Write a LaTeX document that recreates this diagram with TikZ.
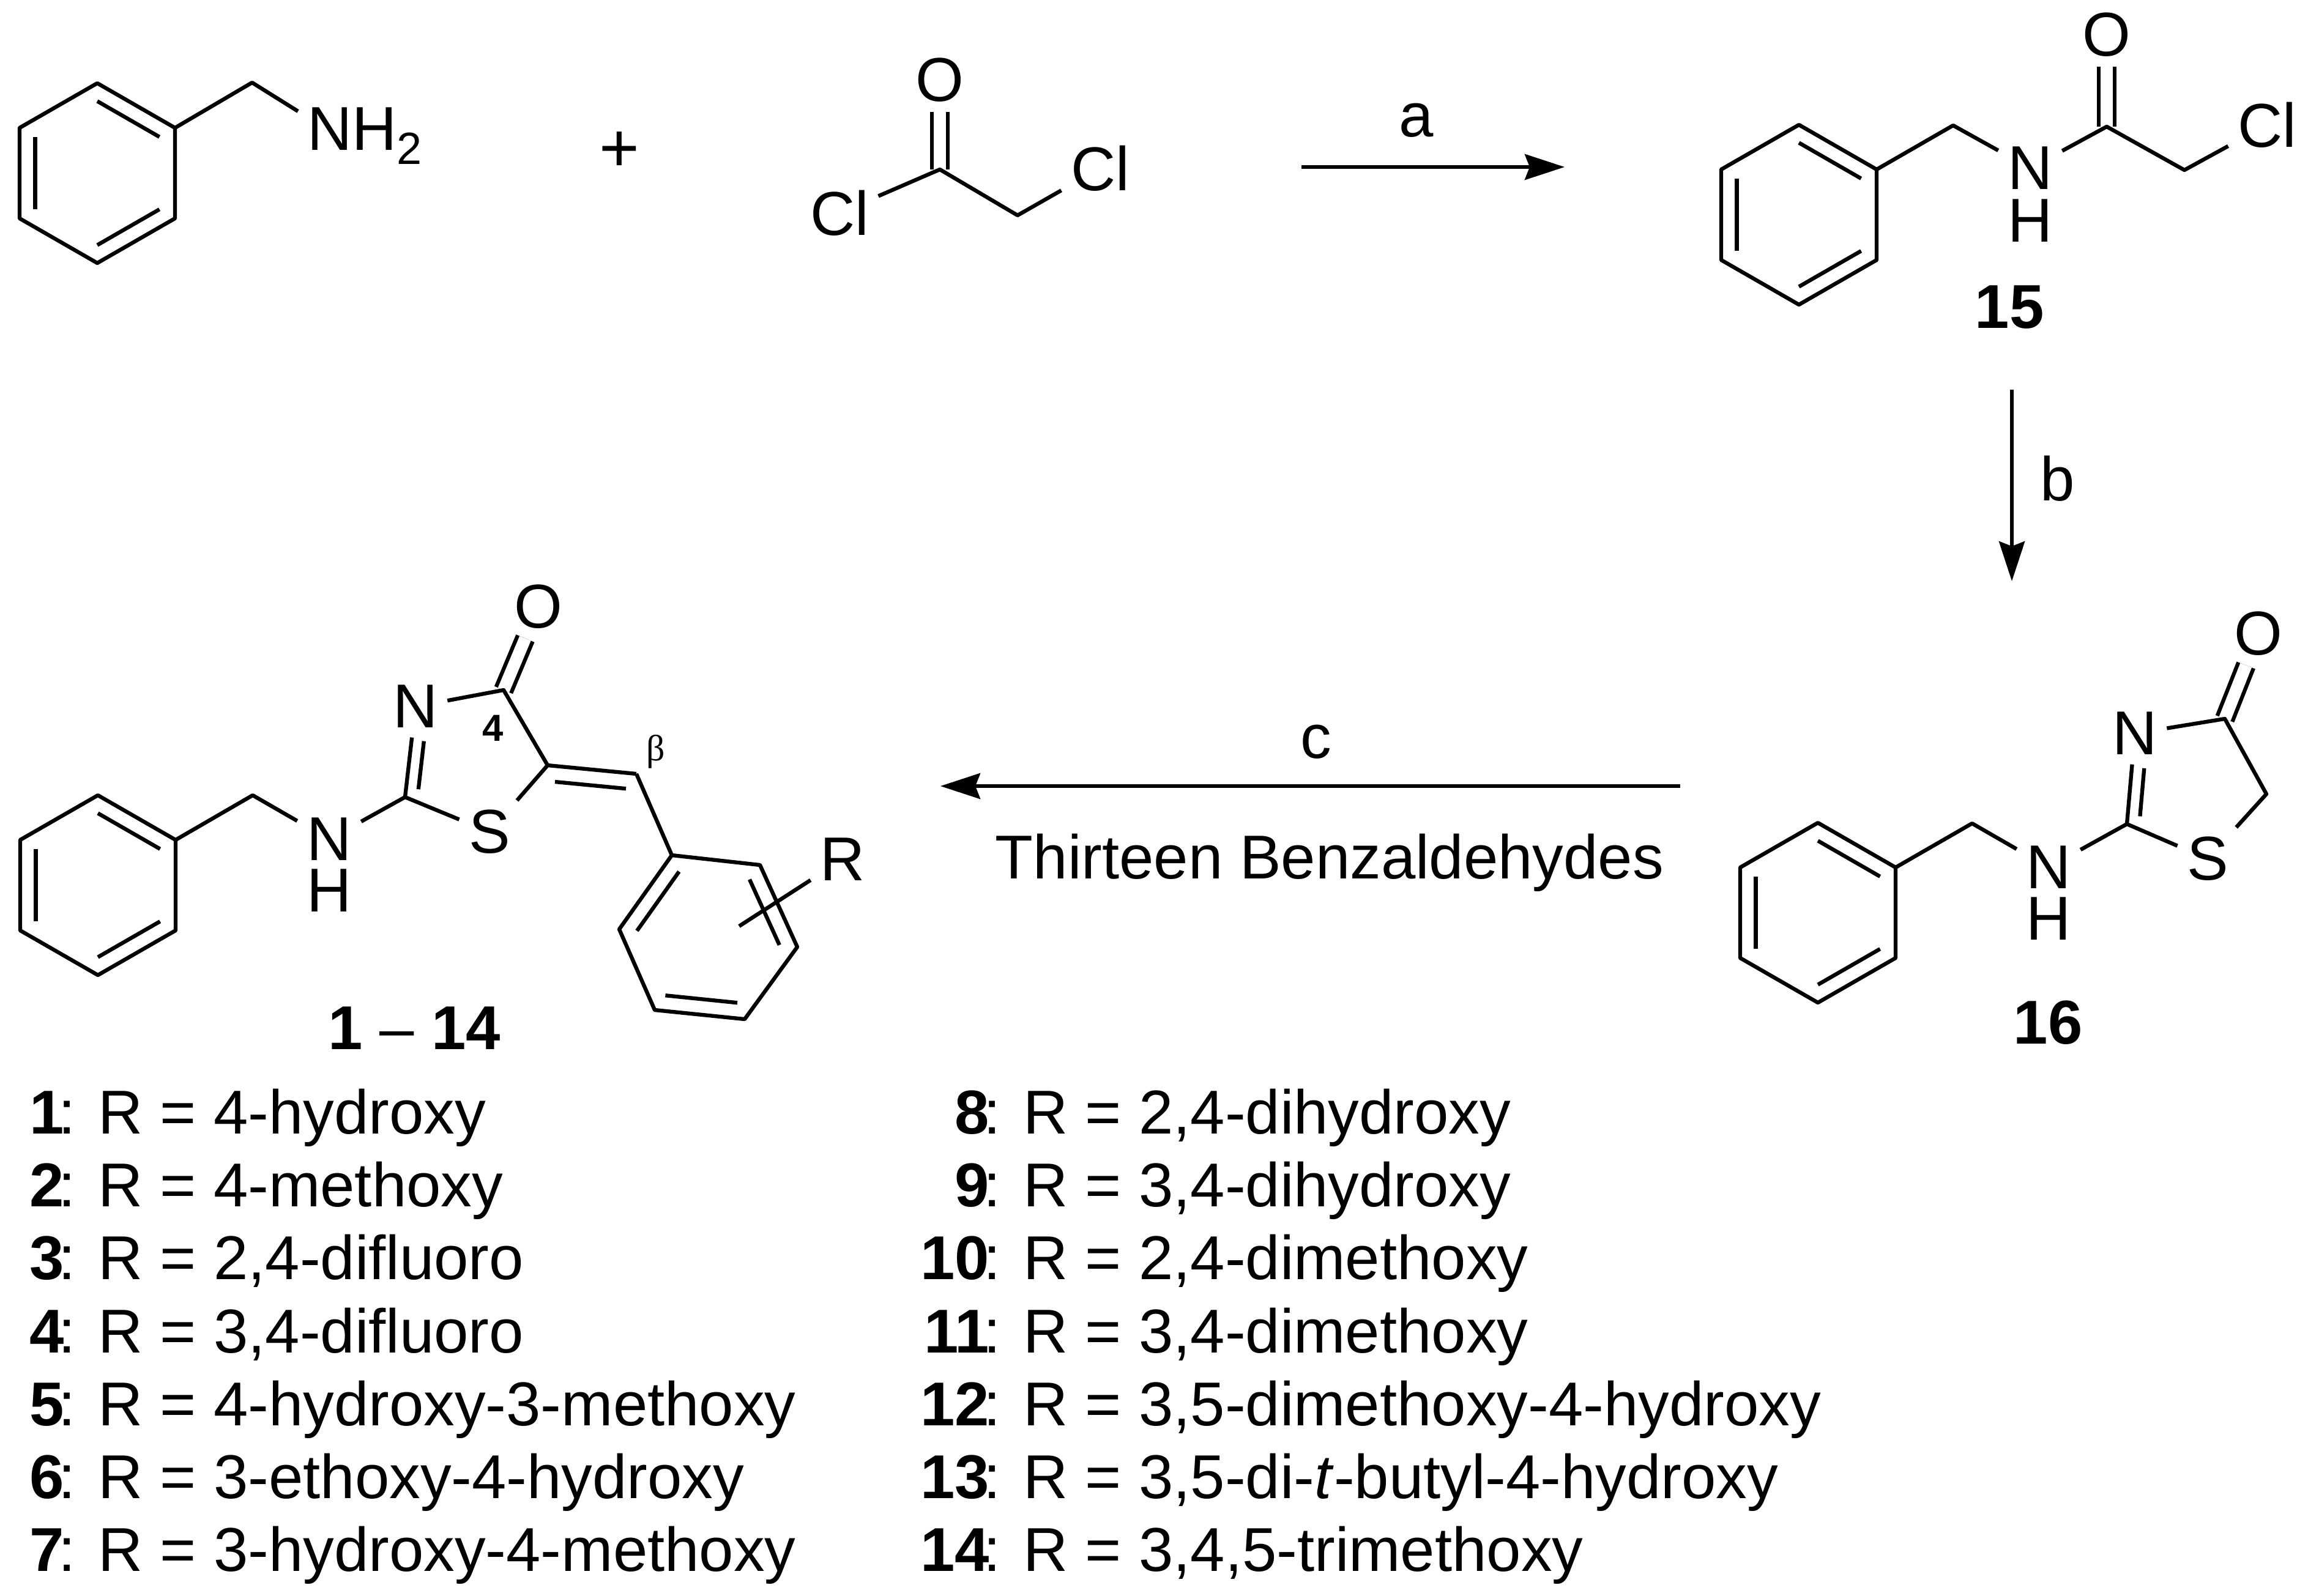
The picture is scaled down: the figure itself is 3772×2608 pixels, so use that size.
\documentclass[tikz,border=0pt]{standalone}
\usepackage{fontspec}
\setmainfont{Liberation Sans}
\newfontfamily\greekfont{Liberation Serif}
\usetikzlibrary{arrows.meta,calc}
\tikzset{
  bond/.style={line width=1.8pt,line join=round},
  dbl/.style={bond,double,double distance=.2cm},
  rxn/.style={line width=1.6pt,-{Stealth[length=.65cm,width=.42cm,inset=.08cm]}},
  atom/.style={inner sep=.15cm,font=\fontsize{28.8}{34}\selectfont},
  lbl/.style={inner sep=0pt,font=\fontsize{28.8}{34}\selectfont},
  cpd/.style={inner sep=0pt,anchor=base,font=\fontsize{28.8}{34}\selectfont},
  entry/.style={inner sep=0pt,anchor=base west,font=\fontsize{28.8}{34}\selectfont}
}
\newcommand{\inbond}[3]{\draw[bond] ($(#1)!.2!(#3)$) -- ($(#2)!.2!(#3)$);}
\newcommand{\phenyl}[3]{
  \coordinate (#1o) at (#2,#3);
  \coordinate (#1a) at (#2,#3-147);
  \coordinate (#1b) at (#2+127,#3-74);
  \coordinate (#1c) at (#2+127,#3+74);
  \coordinate (#1d) at (#2,#3+147);
  \coordinate (#1e) at (#2-127,#3+74);
  \coordinate (#1f) at (#2-127,#3-74);
  \draw[bond] (#1a) -- (#1b) -- (#1c) -- (#1d) -- (#1e) -- (#1f) -- cycle;
  \inbond{#1a}{#1b}{#1o}
  \inbond{#1c}{#1d}{#1o}
  \inbond{#1e}{#1f}{#1o}
}
\begin{document}
\begin{tikzpicture}[x=.01cm,y=-.01cm]
\useasboundingbox (0,0) rectangle (3772,2608);

\phenyl{pa}{159}{283}
\coordinate (cha) at (412,135);
\node[atom,anchor=base west] (nh2) at (487,245) {NH\raisebox{-.23cm}{\fontsize{21}{24}\selectfont 2}};
\draw[bond] (pab) -- (cha) -- (nh2.160);
\node[atom,font=\fontsize{32}{34}\selectfont] (plus) at (1012,248) {+};

\coordinate (cca) at (1536,277);
\coordinate (chb) at (1663,352);
\node[atom] (oa) at (1536,131) {O};
\node[atom] (cla) at (1372,348) {Cl};
\node[atom] (clb) at (1798,275) {Cl};
\draw[dbl] (cca) -- (oa);
\draw[bond] (cla) -- (cca) -- (chb) -- (clb);

\phenyl{pb}{2940}{351}
\coordinate (chc) at (3192,205);
\coordinate (ccb) at (3443,207);
\coordinate (chd) at (3570,278);
\node[atom] (nb) at (3318,275) {N};
\node[atom,inner sep=0pt] (hb) at (3318,361) {H};
\node[atom] (ob) at (3443,57) {O};
\node[atom] (clc) at (3705,204) {Cl};
\draw[dbl] (ccb) -- (ob);
\draw[bond] (pbb) -- (chc) -- (nb) -- (ccb) -- (chd) -- (clc);
\node[cpd] (c15) at (3284,536) {\textbf{15}};

\phenyl{pc}{2971}{1492}
\coordinate (che) at (3223,1346);
\coordinate (cta) at (3476,1347);
\coordinate (ctb) at (3636,1175);
\coordinate (ctc) at (3704,1298);
\coordinate (tza) at (3583,1284);
\node[atom] (nc) at (3348,1418) {N};
\node[atom,inner sep=0pt] (hc) at (3348,1502) {H};
\node[atom] (nd) at (3489,1199) {N};
\node[atom] (sa) at (3608,1404) {S};
\node[atom] (oc) at (3691,1036) {O};
\draw[dbl] (ctb) -- (oc);
\draw[bond] (pcb) -- (che) -- (nc) -- (cta) -- (sa) -- (ctc) -- (ctb) -- (nd) -- (cta);
\draw[bond,shorten >=.4cm] ($(cta)!.2!(tza)$) -- ($(nd)!.2!(tza)$);
\node[cpd] (c16) at (3347,1706) {\textbf{16}};

\phenyl{pd}{160}{1447}
\coordinate (chf) at (413,1300);
\coordinate (cua) at (662,1303);
\coordinate (cub) at (823,1128);
\coordinate (cuc) at (895,1251);
\coordinate (cud) at (1040,1265);
\coordinate (tzb) at (771,1239);
\coordinate (tzc) at (955,1386);
\node[atom] (ne) at (538,1372) {N};
\node[atom,inner sep=0pt] (he) at (538,1456) {H};
\node[atom] (nf) at (679,1155) {N};
\node[atom] (sb) at (800,1360) {S};
\node[atom] (od) at (880,992) {O};
\node[inner sep=0pt,font=\fontsize{17.5}{20}\selectfont\bfseries] (four) at (806,1190) {4};
\node[inner sep=0pt,font=\fontsize{17}{20}\greekfont] (beta) at (1072,1229) {β};
\draw[dbl] (cub) -- (od);
\draw[bond] (pdb) -- (chf) -- (ne) -- (cua) -- (sb) -- (cuc) -- (cub) -- (nf) -- (cua);
\draw[bond,shorten >=.4cm] ($(cua)!.2!(tzb)$) -- ($(nf)!.2!(tzb)$);
\draw[bond] (cuc) -- (cud);
\inbond{cuc}{cud}{tzc}

\coordinate (ra) at (1098,1398);
\coordinate (rb) at (1242,1414);
\coordinate (rc) at (1303,1548);
\coordinate (rd) at (1217,1666);
\coordinate (re) at (1070,1651);
\coordinate (rf) at (1012,1519);
\coordinate (ro) at (1157,1532);
\coordinate (rx) at (1208,1514);
\draw[bond] (cud) -- (ra);
\draw[bond] (ra) -- (rb) -- (rc) -- (rd) -- (re) -- (rf) -- cycle;
\inbond{rf}{ra}{ro}
\inbond{rb}{rc}{ro}
\inbond{rd}{re}{ro}
\node[atom] (rr) at (1377,1405) {R};
\draw[bond] (rx) -- (rr);
\node[cpd] (cser) at (677,1715) {\textbf{1} – \textbf{14}};

\coordinate (aa) at (2127,273);
\coordinate (ab) at (2557,273);
\draw[rxn] (aa) -- node[lbl,pos=.437,above=.46cm] (la) {a} (ab);
\coordinate (ba) at (3288,637);
\coordinate (bb) at (3288,950);
\draw[rxn] (ba) -- node[lbl,pos=.465,right=.44cm] (lb) {b} (bb);
\coordinate (ca) at (2746,1285);
\coordinate (cb) at (1537,1285);
\draw[rxn] (ca) -- node[lbl,pos=.492,above=.42cm] (lc) {c}
  node[lbl,pos=.474,below=.75cm] (ld) {Thirteen Benzaldehydes} (cb);

\foreach \n/\txt [count=\i from 0] in {1/4-hydroxy,2/4-methoxy,3/{2,4-difluoro},
  4/{3,4-difluoro},5/4-hydroxy-3-methoxy,6/3-ethoxy-4-hydroxy,7/3-hydroxy-4-methoxy}
  \node[entry] (e\n) at (160,1853.5+119.2*\i) {\llap{\textbf{\n}\kern-.1em: }R = \txt};
\foreach \n/\txt [count=\i from 0] in {8/{2,4-dihydroxy},9/{3,4-dihydroxy},10/{2,4-dimethoxy},
  11/{3,4-dimethoxy},12/{3,5-dimethoxy-4-hydroxy},13/{3,5-di-\textit{t}-butyl-4-hydroxy},14/{3,4,5-trimethoxy}}
  \node[entry] (e\n) at (1672,1853.5+119.2*\i) {\llap{\textbf{\n}\kern-.1em: }R = \txt};
\end{tikzpicture}
\end{document}
